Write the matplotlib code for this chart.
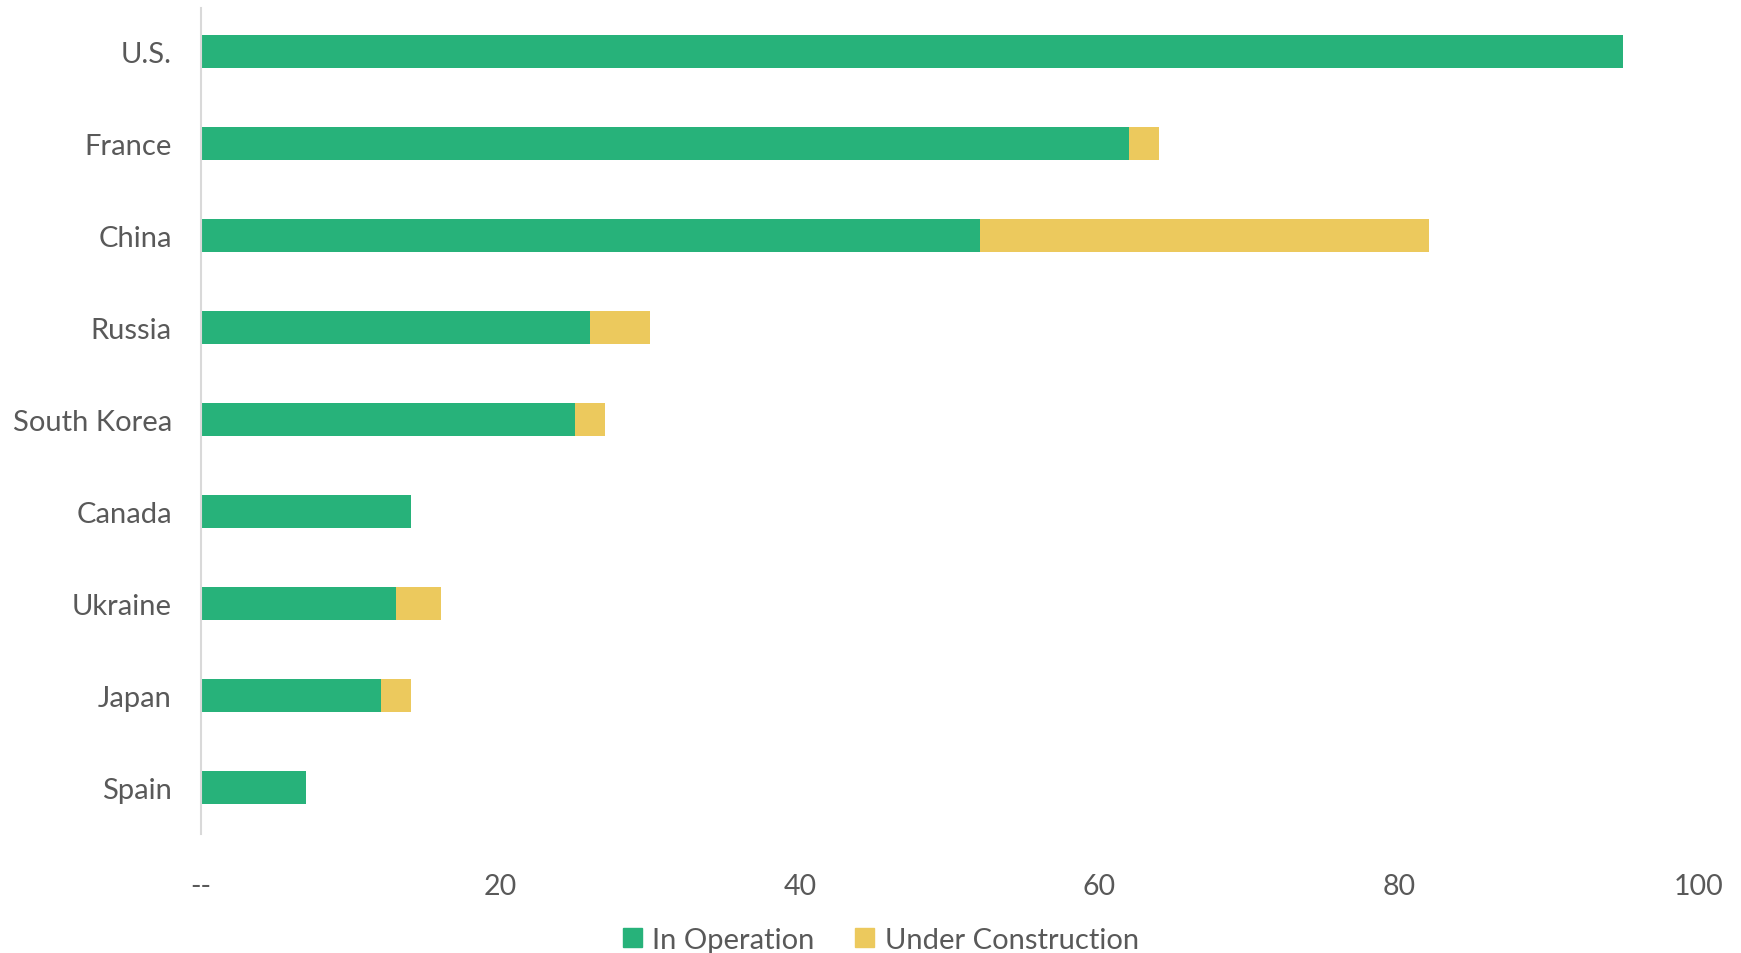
import matplotlib.pyplot as plt
from matplotlib.patches import Patch

plt.rcParams['font.family'] = ['Lato', 'DejaVu Sans']

countries = ['U.S.', 'France', 'China', 'Russia', 'South Korea', 'Canada', 'Ukraine', 'Japan', 'Spain']
in_operation = [95, 62, 52, 26, 25, 14, 13, 12, 7]
under_construction = [0, 2, 30, 4, 2, 0, 3, 2, 0]
xticks = [0, 20, 40, 60, 80, 100]
xtick_labels = ['--', '20', '40', '60', '80', '100']

green = '#27B27A'
yellow = '#ECC95D'
text_col = '#595959'

fig = plt.figure(figsize=(17.41, 9.54), dpi=100)
ax = fig.add_axes([0.1155, 0.125, 0.86, 0.866])

y = range(len(countries))
ax.barh(y, in_operation, height=0.36, color=green)
ax.barh(y, under_construction, left=in_operation, height=0.36, color=yellow)

ax.set_ylim(len(countries) - 0.5, -0.48)
ax.set_xlim(0, 100)
ax.set_yticks(list(y))
ax.set_yticklabels(countries, fontsize=21, color=text_col)
ax.set_xticks(xticks)
ax.set_xticklabels(xtick_labels, fontsize=20.5, color=text_col)
ax.tick_params(length=0)
ax.tick_params(axis='y', pad=21)
ax.tick_params(axis='x', pad=28)

for s in ['top', 'right', 'bottom']:
    ax.spines[s].set_visible(False)
ax.spines['left'].set_color('#D9D9D9')
ax.spines['left'].set_linewidth(1.5)

handles = [Patch(color=green, label='In Operation'), Patch(color=yellow, label='Under Construction')]
fig.legend(handles=handles, loc='center', bbox_to_anchor=(0.506, 0.014), ncol=2,
           frameon=False, fontsize=21, labelcolor=text_col, handlelength=0.65, handleheight=0.65,
           handletextpad=0.35, columnspacing=1.4, borderpad=0)

fig.savefig('out.png', dpi=100)
